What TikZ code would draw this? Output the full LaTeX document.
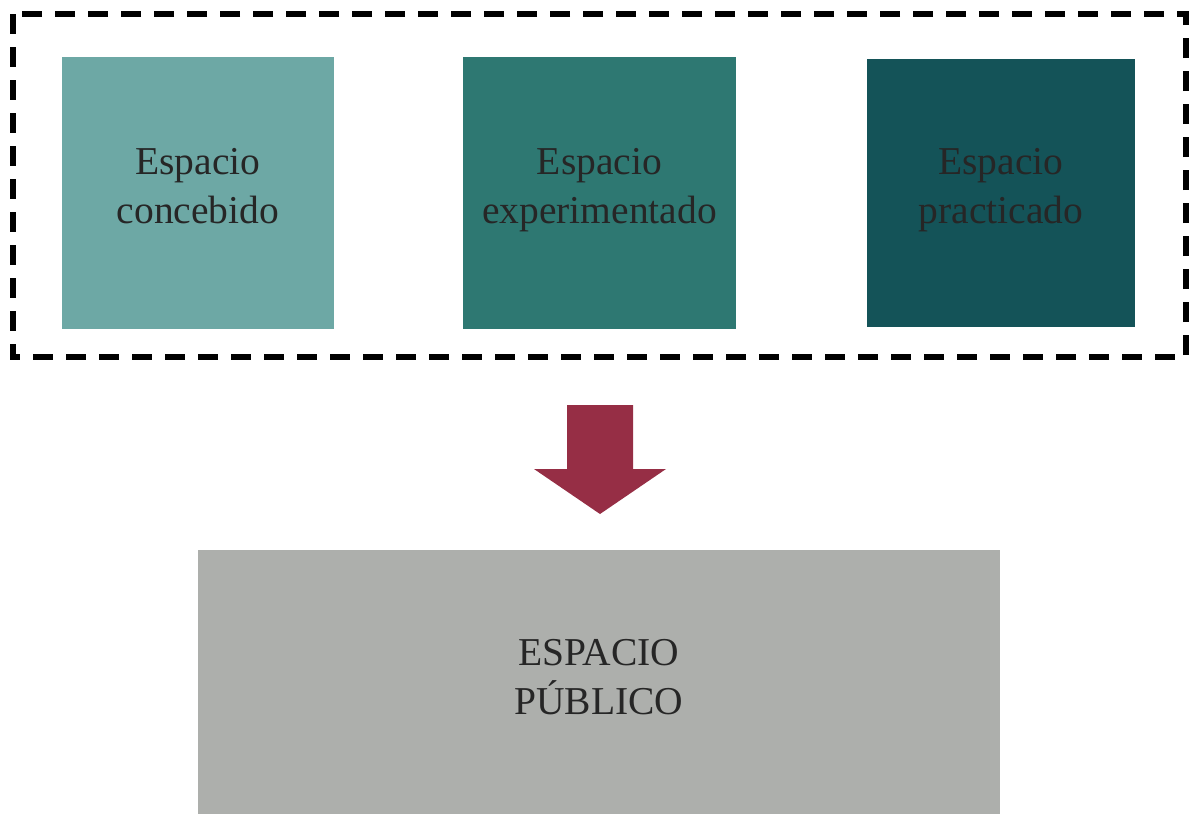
\documentclass[tikz,border=0pt]{standalone}
\usepackage{fontspec}
\setmainfont{Liberation Serif}
\usetikzlibrary{positioning}

\definecolor{tealA}{HTML}{6DA8A5}
\definecolor{tealB}{HTML}{2E7872}
\definecolor{tealC}{HTML}{145358}
\definecolor{wine}{HTML}{962E45}
\definecolor{greybox}{HTML}{ADAFAC}
\definecolor{inkgrey}{HTML}{262626}

\tikzset{
	espbox/.style={draw=none, inner sep=0pt},
	esptext/.style={inner sep=0pt, align=center, text=inkgrey,
		font=\fontsize{39.5}{49}\selectfont},
}

\begin{document}
\begin{tikzpicture}[x=1pt, y=-1pt]
		
		\useasboundingbox (0,0) rectangle (1190,814);
		
		% tres espacios
		\node [espbox, fill=tealA, minimum width=272pt, minimum height=272pt,
			label={[esptext, yshift=7pt]center:Espacio\\concebido}] (conc) at (198,193) {};
		\node [espbox, fill=tealB, minimum width=273pt, minimum height=272pt,
			label={[esptext, yshift=3pt]center:Espacio\\experimentado}] (expe) at (599.5,193) {};
		\node [espbox, fill=tealC, minimum width=268pt, minimum height=268pt,
			label={[esptext, yshift=3pt]center:Espacio\\practicado}] (prac) at (1001,193) {};
		
		\draw [line width=6pt, dash pattern=on 20pt off 13pt] (13,14) rectangle (1186,357);
		
		% flecha
		\fill [wine] (567,405) -- (633,405) -- (633,469) -- (666,469) -- (600,514) -- (534,469) -- (567,469) -- cycle;
		
		\node [espbox, fill=greybox, minimum width=802pt, minimum height=264pt,
			label={[esptext, yshift=5pt]center:ESPACIO\\PÚBLICO}] (publ) at (599,682) {};
		
	\end{tikzpicture}
\end{document}
